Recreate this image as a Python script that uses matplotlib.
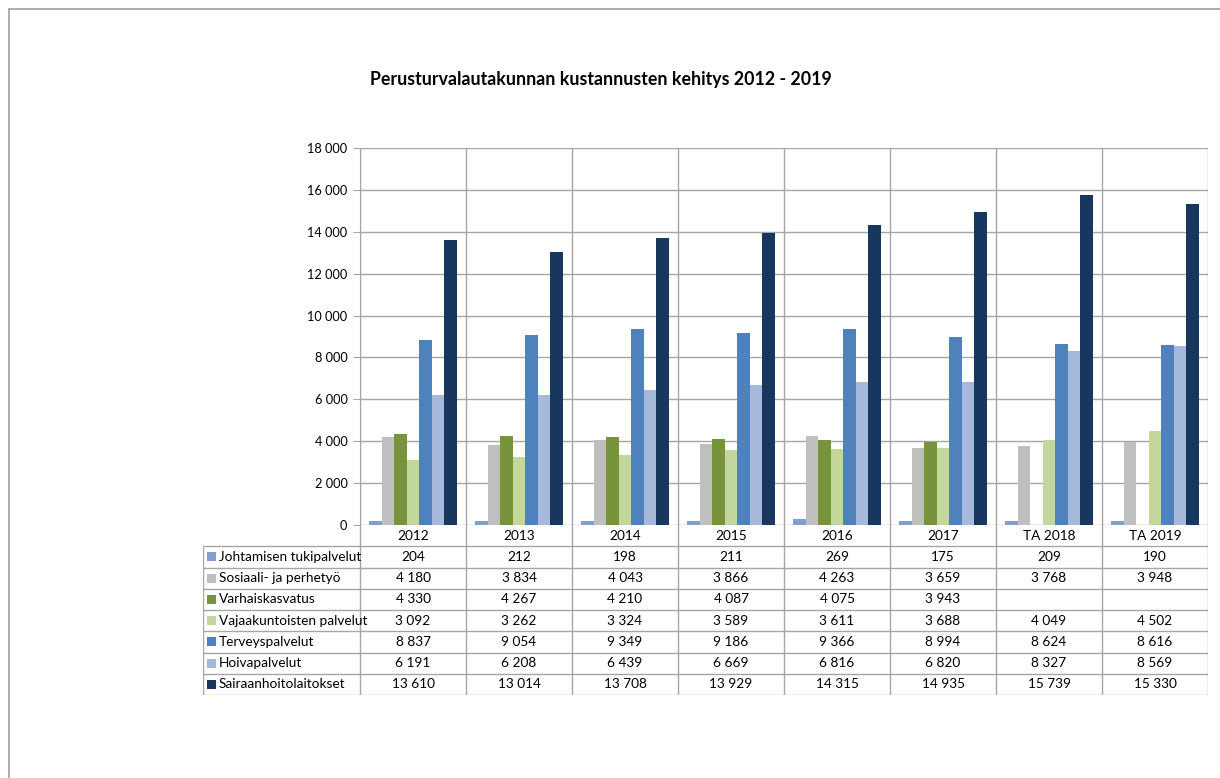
import numpy as np
import matplotlib.pyplot as plt
from matplotlib.patches import Rectangle

plt.rcParams['font.family'] = ['Lato', 'DejaVu Sans']

years = ['2012', '2013', '2014', '2015', '2016', '2017', 'TA 2018', 'TA 2019']
series = ['Johtamisen tukipalvelut', 'Sosiaali- ja perhetyö', 'Varhaiskasvatus',
          'Vajaakuntoisten palvelut', 'Terveyspalvelut', 'Hoivapalvelut',
          'Sairaanhoitolaitokset']
johtaminen = [204, 212, 198, 211, 269, 175, 209, 190]
sosiaali = [4180, 3834, 4043, 3866, 4263, 3659, 3768, 3948]
varhais = [4330, 4267, 4210, 4087, 4075, 3943, None, None]
vajaa = [3092, 3262, 3324, 3589, 3611, 3688, 4049, 4502]
terveys = [8837, 9054, 9349, 9186, 9366, 8994, 8624, 8616]
hoiva = [6191, 6208, 6439, 6669, 6816, 6820, 8327, 8569]
sairaan = [13610, 13014, 13708, 13929, 14315, 14935, 15739, 15330]
values = [johtaminen, sosiaali, varhais, vajaa, terveys, hoiva, sairaan]
colors = ['#7F9FD0', '#BFBFBF', '#77933C', '#C3D69B', '#4F81BD', '#A7B9DB', '#17375E']

W, H = 1220, 778
grid_c = '#A6A6A6'
fs = 9.8
fig = plt.figure(figsize=(W / 100, H / 100), dpi=100)

# frame of the chart area (only top and left visible)
fig.add_artist(Rectangle((9 / W, -0.5), 2, 1.5 - 9 / H, transform=fig.transFigure,
                         fill=False, edgecolor='#A0A0A0', linewidth=1.2))

fig.text(601 / W, 1 - 80 / H, 'Perusturvalautakunnan kustannusten kehitys 2012 - 2019',
         ha='center', va='center', fontsize=12.8, fontweight='bold')

# bar chart
px_l, px_r, px_t, px_b = 360, 1208, 148, 525
ax = fig.add_axes([px_l / W, 1 - px_b / H, (px_r - px_l) / W, (px_b - px_t) / H])
n = len(years)
group = 0.83
bw = group / len(series)
x0 = np.arange(n)
for j, (vals, c) in enumerate(zip(values, colors)):
    v = np.array([np.nan if a is None else a for a in vals], dtype=float)
    ax.bar(x0 + (1 - group) / 2 + (j + 0.5) * bw, v, width=bw, color=c,
           edgecolor='none', zorder=3)
ax.set_xlim(0, n)
ax.set_ylim(0, 18000)
ax.set_yticks(np.arange(0, 18001, 2000))
ax.set_yticklabels([f'{t:,}'.replace(',', ' ') for t in range(0, 18001, 2000)],
                   fontsize=9.2)
ax.set_xticks([])
ax.tick_params(axis='y', length=5, color=grid_c, pad=4)
ax.grid(axis='y', color=grid_c, linewidth=1, zorder=0)
for i in range(n + 1):
    ax.axvline(i, color=grid_c, linewidth=1, zorder=1)
for s in ['top', 'right', 'bottom']:
    ax.spines[s].set_visible(False)
ax.spines['left'].set_color(grid_c)

# data table
t_l, t_b = 203, 695
tax = fig.add_axes([t_l / W, 1 - t_b / H, (px_r - t_l) / W, (t_b - px_b) / H])
lab_w = (px_l - t_l) / ((px_r - px_l) / n)
rows = len(series) + 1
tax.set_xlim(-lab_w, n)
tax.set_ylim(rows, 0)
tax.axis('off')
for i in range(n + 1):
    tax.plot([i, i], [0, rows], color=grid_c, linewidth=1)
tax.plot([-lab_w, -lab_w], [1, rows], color=grid_c, linewidth=1)
for r in range(1, rows + 1):
    tax.plot([-lab_w, n], [r, r], color=grid_c, linewidth=1)
for i, y in enumerate(years):
    tax.text(i + 0.5, 0.5, y, ha='center', va='center', fontsize=fs)
sq_w = 9 / ((px_r - px_l) / n)
sq_h = 9 / ((t_b - px_b) / rows)
for r, (name, vals, c) in enumerate(zip(series, values, colors), start=1):
    tax.add_patch(Rectangle((-lab_w + 0.04, r + 0.5 - sq_h / 2), sq_w, sq_h,
                            facecolor=c, edgecolor='none'))
    tax.text(-lab_w + 0.15, r + 0.5, name, ha='left', va='center', fontsize=fs)
    for i, v in enumerate(vals):
        if v is not None:
            tax.text(i + 0.5, r + 0.5, f'{v:,}'.replace(',', ' '),
                     ha='center', va='center', fontsize=fs)

fig.savefig('out.png', dpi=100)
